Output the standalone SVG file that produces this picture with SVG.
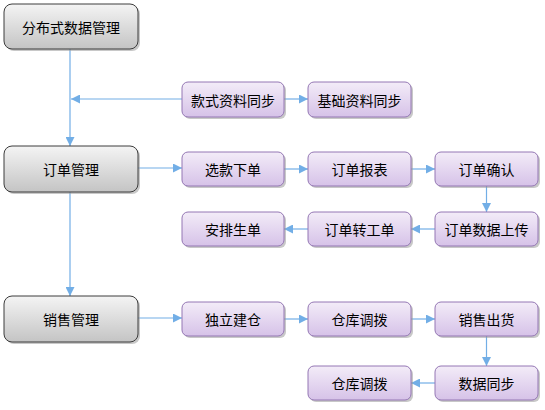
<svg xmlns="http://www.w3.org/2000/svg" width="545" height="410" viewBox="0 0 545 410">
<defs>
<linearGradient id="gGray" x1="0" y1="0" x2="0" y2="1">
<stop offset="0" stop-color="#f4f4f4"/>
<stop offset="1" stop-color="#c4c4c4"/>
</linearGradient>
<linearGradient id="gPurple" x1="0" y1="0" x2="0" y2="1">
<stop offset="0" stop-color="#f3ecf8"/>
<stop offset="1" stop-color="#d6c2e8"/>
</linearGradient>
<marker id="arr" viewBox="0 0 10 10" refX="10" refY="5" markerWidth="9" markerHeight="9" markerUnits="userSpaceOnUse" orient="auto">
<path d="M0,0 L10,5 L0,10 Z" fill="#72aee6"/>
</marker>
</defs>
<style>
.gray{fill:url(#gGray);stroke:#3c3c3c;stroke-width:1}
.pur{fill:url(#gPurple);stroke:#9477b4;stroke-width:1}
.sh{fill:#9a9a9a;opacity:0.55}
text{font-family:"Noto Sans CJK SC","Liberation Sans",sans-serif;font-size:14px;fill:#000;text-anchor:middle;dominant-baseline:central}
.c{fill:none;stroke:#72aee6;stroke-width:1.2;marker-end:url(#arr)}
</style>
<rect width="545" height="410" fill="#fff"/>
<g id="connectors">
<line class="c" x1="70" y1="49" x2="70" y2="146"/>
<line class="c" x1="182" y1="99" x2="71" y2="99"/>
<line class="c" x1="284" y1="99" x2="308" y2="99"/>
<line class="c" x1="70" y1="192" x2="70" y2="296"/>
<line class="c" x1="138" y1="168" x2="182" y2="168"/>
<line class="c" x1="284" y1="169" x2="308" y2="169"/>
<line class="c" x1="411" y1="169" x2="435" y2="169"/>
<line class="c" x1="486.5" y1="185" x2="486.5" y2="212"/>
<line class="c" x1="435" y1="229" x2="411" y2="229"/>
<line class="c" x1="308" y1="229" x2="284" y2="229"/>
<line class="c" x1="138" y1="318" x2="182" y2="318"/>
<line class="c" x1="284" y1="319" x2="308" y2="319"/>
<line class="c" x1="411" y1="319" x2="435" y2="319"/>
<line class="c" x1="486.5" y1="336" x2="486.5" y2="366"/>
<line class="c" x1="435" y1="383" x2="411" y2="383"/>
</g>
<g id="n_fenbu"><rect class="sh" x="6" y="6" width="134" height="45" rx="8"/><rect class="gray" x="4" y="4" width="134" height="45" rx="8"/><text x="71" y="27">分布式数据管理</text></g>
<g id="n_dingdan"><rect class="sh" x="6" y="148" width="134" height="46" rx="8"/><rect class="gray" x="4" y="146" width="134" height="46" rx="8"/><text x="71" y="169">订单管理</text></g>
<g id="n_xiaoshou"><rect class="sh" x="6" y="298" width="134" height="46" rx="8"/><rect class="gray" x="4" y="296" width="134" height="46" rx="8"/><text x="71" y="319">销售管理</text></g>

<g id="n_kuanshi"><rect class="sh" x="184" y="84" width="102" height="35" rx="6"/><rect class="pur" x="182" y="82" width="102" height="35" rx="6"/><text x="233" y="99.5">款式资料同步</text></g>
<g id="n_jichu"><rect class="sh" x="310" y="84" width="103" height="35" rx="6"/><rect class="pur" x="308" y="82" width="103" height="35" rx="6"/><text x="359.5" y="99.5">基础资料同步</text></g>

<g id="n_xuankuan"><rect class="sh" x="184" y="154" width="102" height="34" rx="6"/><rect class="pur" x="182" y="152" width="102" height="34" rx="6"/><text x="233" y="169">选款下单</text></g>
<g id="n_baobiao"><rect class="sh" x="310" y="154" width="103" height="34" rx="6"/><rect class="pur" x="308" y="152" width="103" height="34" rx="6"/><text x="359.5" y="169">订单报表</text></g>
<g id="n_queren"><rect class="sh" x="437" y="154" width="103" height="34" rx="6"/><rect class="pur" x="435" y="152" width="103" height="34" rx="6"/><text x="486.5" y="169">订单确认</text></g>

<g id="n_anpai"><rect class="sh" x="184" y="214" width="102" height="34" rx="6"/><rect class="pur" x="182" y="212" width="102" height="34" rx="6"/><text x="233" y="229">安排生单</text></g>
<g id="n_zhuan"><rect class="sh" x="310" y="214" width="103" height="34" rx="6"/><rect class="pur" x="308" y="212" width="103" height="34" rx="6"/><text x="359.5" y="229">订单转工单</text></g>
<g id="n_shangchuan"><rect class="sh" x="437" y="214" width="103" height="34" rx="6"/><rect class="pur" x="435" y="212" width="103" height="34" rx="6"/><text x="486.5" y="229">订单数据上传</text></g>

<g id="n_duli"><rect class="sh" x="184" y="304" width="102" height="34" rx="6"/><rect class="pur" x="182" y="302" width="102" height="34" rx="6"/><text x="233" y="319">独立建仓</text></g>
<g id="n_diaobo1"><rect class="sh" x="310" y="304" width="103" height="34" rx="6"/><rect class="pur" x="308" y="302" width="103" height="34" rx="6"/><text x="359.5" y="319">仓库调拨</text></g>
<g id="n_chuhuo"><rect class="sh" x="437" y="304" width="103" height="34" rx="6"/><rect class="pur" x="435" y="302" width="103" height="34" rx="6"/><text x="486.5" y="319">销售出货</text></g>

<g id="n_diaobo2"><rect class="sh" x="310" y="368" width="103" height="34" rx="6"/><rect class="pur" x="308" y="366" width="103" height="34" rx="6"/><text x="359.5" y="383">仓库调拨</text></g>
<g id="n_tongbu"><rect class="sh" x="437" y="368" width="103" height="34" rx="6"/><rect class="pur" x="435" y="366" width="103" height="34" rx="6"/><text x="486.5" y="383">数据同步</text></g>
</svg>
